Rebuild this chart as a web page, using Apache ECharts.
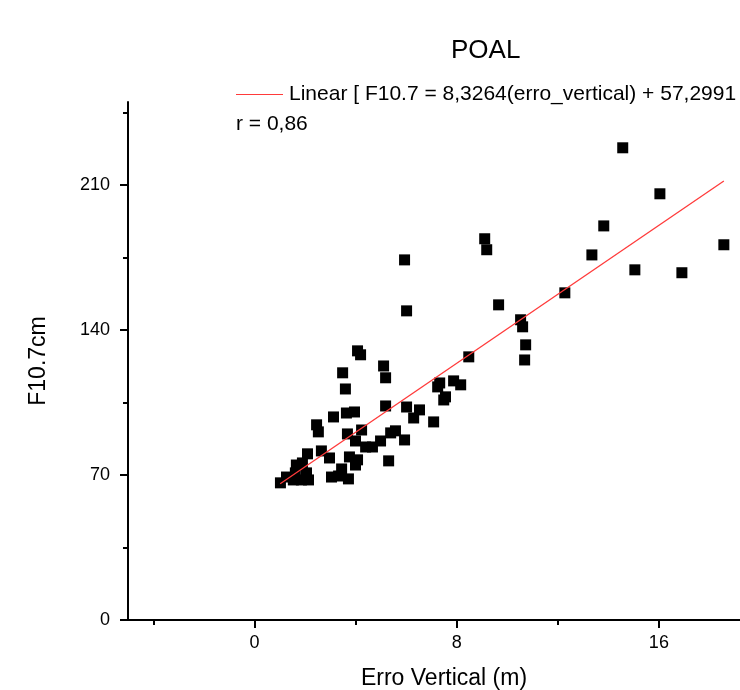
<!DOCTYPE html>
<html>
<head>
<meta charset="utf-8">
<script src="https://cdn.jsdelivr.net/npm/echarts@6/dist/echarts.min.js"></script>
<style>
html,body{margin:0;padding:0;background:#fff;}
#chart{width:740px;height:690px;}
</style>
</head>
<body>
<div id="chart"></div>
<script>
var titleText = 'POAL';
var xName = 'Erro Vertical (m)';
var yName = 'F10.7cm';
var fitName = 'Linear [ F10.7 = 8,3264(erro_vertical) + 57,2991 ]';
var rText = 'r = 0,86';

var xMajorTicks = [0, 8, 16];
var xMinorTicks = [-4, 4, 12, 20];
var yMajorTicks = [0, 70, 140, 210];
var yMinorTicks = [35, 105, 175, 245];

var errX = [14.57,16.04,13.82,18.57,9.11,9.19,13.35,5.94,15.05,16.91,12.28,9.66,6.02,10.53,10.61,10.73,10.69,8.48,
  4.08,4.20,5.11,5.19,3.49,3.60,7.33,7.25,7.88,8.16,7.56,7.49,5.19,6.02,6.53,6.30,7.09,3.13,3.64,3.96,2.46,2.53,
  4.24,3.68,4.00,4.40,4.67,4.99,5.39,5.58,5.94,2.65,2.97,2.10,3.76,4.08,4.00,5.31,1.90,1.66,3.45,3.05,3.33,3.72,
  2.06,2.14,1.27,1.03,1.54,1.86,1.62];
var f107 = [227.9,205.7,190.2,181.1,184.0,178.7,176.2,173.8,169.0,167.6,157.9,152.1,149.2,144.9,141.5,132.8,125.5,127.0,
  129.9,128.0,122.6,116.9,119.3,111.5,114.4,112.5,115.4,113.5,107.7,106.2,103.3,102.8,101.4,97.5,95.6,98.0,99.9,100.4,94.2,90.8,
  91.7,89.8,86.4,83.5,83.5,86.4,90.3,91.3,86.9,81.6,78.2,80.2,78.7,77.3,74.8,76.8,75.8,74.8,72.9,69.0,69.5,68.1,
  71.0,67.6,69.0,66.2,67.6,67.6,71.0];

var fitX = [1.02, 18.57];
var fitY = [65.8, 211.9];

var FONT = '"Liberation Sans", Arial, Helvetica, sans-serif';

var scatterData = errX.map(function (x, i) { return [x, f107[i]]; });
var fitData = fitX.map(function (x, i) { return [x, fitY[i]]; });

var chart = echarts.init(document.getElementById('chart'), null, {renderer: 'canvas'});
chart.setOption({
  backgroundColor: '#ffffff',
  animation: false,
  title: {
    text: titleText,
    left: 446, top: 33,
    textStyle: {fontFamily: FONT, fontSize: 26, fontWeight: 'normal', color: '#000'}
  },
  legend: {
    data: [{name: fitName, icon: 'rect'}],
    left: 236, top: 84,
    itemWidth: 47, itemHeight: 1, itemGap: 0,
    padding: [0, 0, 0, 0],
    textStyle: {fontFamily: FONT, fontSize: 21, color: '#000', padding: [0, 0, 0, 1]}
  },
  graphic: [{
    type: 'text', left: 236, top: 114,
    style: {text: rText, font: '21px ' + FONT, fill: '#000'}
  }],
  grid: {left: 128, top: 102, width: 632, height: 518, containLabel: false, outerBoundsMode: 'none'},
  xAxis: [{
    type: 'value', min: -5, max: 20, position: 'bottom',
    name: xName, nameLocation: 'middle', nameGap: 47,
    nameTextStyle: {fontFamily: FONT, fontSize: 23, color: '#000'},
    axisLine: {show: true, onZero: false, lineStyle: {color: '#000', width: 2}},
    axisTick: {show: true, inside: false, length: 8, customValues: xMajorTicks, lineStyle: {color: '#000', width: 2}},
    axisLabel: {show: true, customValues: xMajorTicks, margin: 14, fontFamily: FONT, fontSize: 18, color: '#000'},
    splitLine: {show: false}
  }, {
    type: 'value', min: -5, max: 20, position: 'bottom', gridIndex: 0,
    axisLine: {show: false, onZero: false},
    axisTick: {show: true, inside: false, length: 5, customValues: xMinorTicks, lineStyle: {color: '#000', width: 2}},
    axisLabel: {show: false},
    splitLine: {show: false}
  }],
  yAxis: [{
    type: 'value', min: 0, max: 250, position: 'left',
    name: yName, nameLocation: 'middle', nameGap: 78, nameRotate: 90,
    nameTextStyle: {fontFamily: FONT, fontSize: 23, color: '#000'},
    axisLine: {show: true, onZero: false, lineStyle: {color: '#000', width: 2}},
    axisTick: {show: true, inside: false, length: 8, customValues: yMajorTicks, lineStyle: {color: '#000', width: 2}},
    axisLabel: {show: true, customValues: yMajorTicks, margin: 18, fontFamily: FONT, fontSize: 18, color: '#000'},
    splitLine: {show: false}
  }, {
    type: 'value', min: 0, max: 250, position: 'left',
    axisLine: {show: false, onZero: false},
    axisTick: {show: true, inside: false, length: 5, customValues: yMinorTicks, lineStyle: {color: '#000', width: 2}},
    axisLabel: {show: false},
    splitLine: {show: false}
  }],
  series: [{
    name: 'data', type: 'scatter', xAxisIndex: 0, yAxisIndex: 0,
    symbol: 'rect', symbolSize: 11,
    itemStyle: {color: '#000', opacity: 1},
    data: scatterData, z: 3
  }, {
    name: fitName, type: 'line', xAxisIndex: 0, yAxisIndex: 0,
    symbol: 'none', showSymbol: false,
    lineStyle: {color: '#ff3a3a', width: 1.3},
    itemStyle: {color: '#ff3a3a'},
    data: fitData, z: 4
  }]
});
</script>
</body>
</html>
